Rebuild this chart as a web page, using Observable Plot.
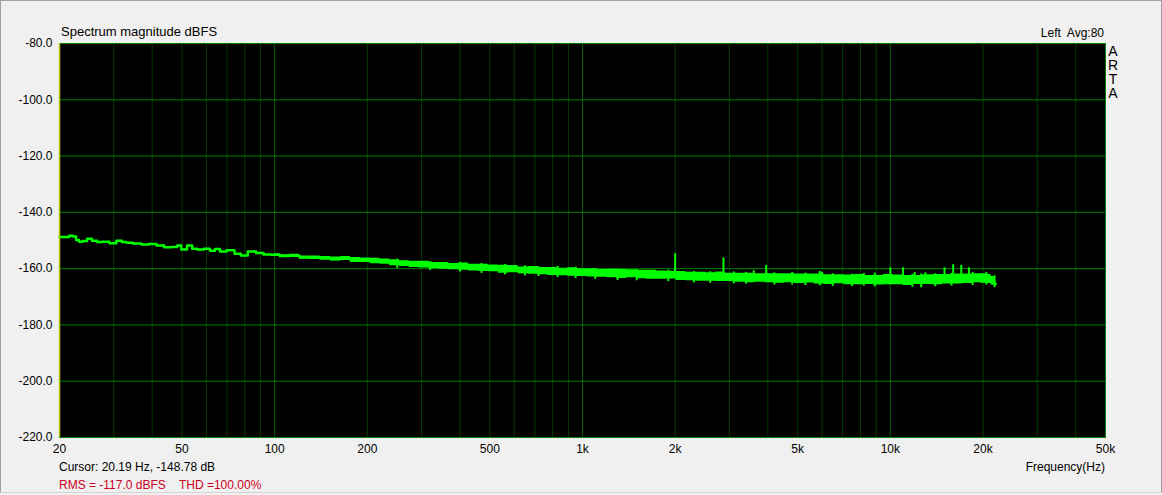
<!DOCTYPE html>
<html>
<head>
<meta charset="utf-8">
<script src="https://cdn.jsdelivr.net/npm/d3@7"></script>
<script src="https://cdn.jsdelivr.net/npm/@observablehq/plot@0.6"></script>
<style>
  html, body { margin: 0; padding: 0; background: #f0f0f0; }
  #wrap { position: relative; width: 1162px; height: 495px; overflow: hidden; font-family: "Liberation Sans", Arial, sans-serif; }
  #wrap svg { position: absolute; left: 0; top: 0; }
  .t { position: absolute; font-size: 12px; color: #000; white-space: pre; line-height: 14px; }
  #border { position: absolute; left: 0; top: 0; width: 1160px; height: 491px; border: 1px solid #a0a0a0; border-bottom-color: #d4d4d4; pointer-events: none; }
</style>
</head>
<body>
<div id="wrap"></div>
<script>
// ---- data ----
const xTicks = [20, 50, 100, 200, 500, 1000, 2000, 5000, 10000, 20000, 50000];
const xTickLabels = ["20", "50", "100", "200", "500", "1k", "2k", "5k", "10k", "20k", "50k"];
const yTicks = [-80, -100, -120, -140, -160, -180, -200, -220];
const gridFreqs = [30, 40, 50, 60, 70, 80, 90,
  200, 300, 400, 500, 600, 700, 800, 900,
  2000, 3000, 4000, 5000, 6000, 7000, 8000, 9000,
  20000, 30000, 40000];
const decadeFreqs = [100, 1000, 10000];

// low-frequency part of the trace (thin line)
const freqLow = [20, 21.2, 21.8, 22.4, 22.9, 23.4, 24.2, 25.0, 26.0, 27.0, 28.2, 29.9, 31.3, 32.5, 33.5,
  35.8, 38.0, 40.1, 42.6, 44.9, 47.6, 48.9, 50.6, 53.3, 54.6, 57.4, 60.5, 62.8, 65.2, 67.7,
  71.9, 76.3, 79.0, 84.7, 89.3, 94.8];
const dbLow = [-148.8, -148.8, -148.3, -148.6, -149.8, -150.4, -150.2, -149.4, -150.1, -150.5, -150.4, -151.0, -150.1, -150.5, -150.8,
  -151.1, -151.4, -151.2, -151.8, -152.4, -152.3, -151.8, -153.2, -151.8, -152.9, -153.2, -152.9, -153.6, -153.0, -153.9,
  -153.5, -154.7, -155.3, -153.9, -154.4, -155.0];

// noise band: centre and half-width (dB)
const freqBand = [100, 108, 116, 125, 135, 146, 158,
  170, 183, 197, 212, 228, 245, 264, 284, 306, 330,
  355, 382, 411, 443, 477, 513, 553, 595, 641, 690, 743, 800, 861, 927, 998,
  1075, 1157, 1246, 1341, 1444, 1555, 1674, 1802, 1940, 2089, 2249, 2421, 2607, 2807, 3022, 3254,
  3503, 3771, 4060, 4372, 4707, 5067, 5456, 5874, 6324, 6809, 7331, 7893, 8498, 9149, 9850,
  10605, 11418, 12293, 13235, 14249, 15341, 16517, 17783, 19146, 20200, 21000, 21500, 22000];
const dbBand = [-155.1, -155.5, -155.4, -156.0, -156.1, -156.3, -156.6,
  -156.4, -156.9, -157.0, -157.3, -157.5, -157.9, -158.2, -158.5, -158.6, -158.9,
  -159.0, -159.3, -159.3, -159.6, -159.7, -159.9, -160.2, -160.2, -160.6, -160.6, -160.9, -161.0, -161.2, -161.2, -161.4,
  -161.5, -161.7, -161.7, -161.9, -161.8, -162.1, -162.2, -162.3, -162.3, -162.6, -162.8, -162.9, -163.0, -162.9, -163.1, -163.2,
  -163.3, -163.3, -163.4, -163.5, -163.4, -163.6, -163.5, -163.7, -163.9, -163.8, -164.0, -163.9, -164.0, -164.1, -163.9,
  -164.0, -164.2, -164.0, -163.9, -163.9, -163.8, -163.7, -163.6, -163.4, -163.5, -163.7, -164.3, -165.5];
const spreadBand = [0.4, 0.4, 0.5, 0.5, 0.6, 0.6, 0.7,
  0.7, 0.9, 0.8, 1.0, 0.9, 1.1, 1.0, 1.1, 1.2, 1.1,
  1.2, 1.1, 1.3, 1.2, 1.3, 1.2, 1.4, 1.3, 1.2, 1.4, 1.3, 1.4, 1.3, 1.5, 1.4,
  1.5, 1.4, 1.5, 1.6, 1.4, 1.5, 1.6, 1.5, 1.4, 1.6, 1.5, 1.6, 1.5, 1.7, 1.5, 1.6,
  1.7, 1.5, 1.6, 1.7, 1.6, 1.7, 1.6, 1.8, 1.7, 1.6, 1.7, 1.8, 1.6, 1.7, 1.8,
  1.7, 1.8, 1.6, 1.7, 1.8, 1.7, 1.8, 1.7, 1.6, 1.7, 1.6, 1.5, 1.3];

// short noise excursions sticking out of the band
const jagFreqs = [250, 320, 400, 470, 560, 650, 720, 830, 950, 1100, 1300, 1500, 1900, 2300, 2600, 3100,
  3400, 4200, 4800, 5300, 5900, 6500, 7500, 8200, 8900, 11800, 12600, 14000, 15800, 18500, 20500, 21800];
const jagLo = [-159.9, -160.6, -161.2, -161.7, -162.2, -162.6, -162.8, -163.2, -163.5, -163.8, -164.2, -164.3, -164.6, -165.1, -165.2, -165.4,
  -165.5, -165.8, -165.8, -166.0, -166.1, -166.3, -166.4, -166.2, -166.5, -166.6, -166.8, -166.4, -166.2, -166.0, -165.8, -166.5];
const jagHi = [-156.6, -157.5, -157.8, -158.2, -158.5, -159.0, -159.3, -159.2, -159.5, -160.0, -160.2, -160.3, -160.5, -161.0, -161.1, -161.2,
  -161.3, -161.5, -161.4, -161.6, -161.0, -161.8, -162.0, -161.7, -161.6, -162.0, -161.9, -161.8, -161.7, -161.4, -161.3, -162.5];

// harmonic / spurious spikes
const spikeFreqs = [2000, 2870, 3600, 3950, 6000, 10000, 11000, 12000, 13000, 15000, 16000, 17000, 18000];
const spikeTops = [-154.7, -156.2, -160.8, -158.9, -161.3, -159.7, -159.7, -161.3, -161.5, -159.7, -158.6, -158.8, -159.7];
const spikeBases = [-162.5, -163.0, -163.3, -163.3, -163.7, -163.9, -164.0, -164.0, -163.9, -163.8, -163.7, -163.6, -163.5];

// ---- tables ----
const trace = freqLow.map((f, i) => ({f, db: dbLow[i]}))
  .concat(freqBand.map((f, i) => ({f, db: dbBand[i]})));
const band = freqBand.map((f, i) => ({f, lo: dbBand[i] - spreadBand[i], hi: dbBand[i] + spreadBand[i]}));
const jags = jagFreqs.map((f, i) => ({f, lo: jagLo[i], hi: jagHi[i]}));
const spikes = spikeFreqs.map((f, i) => ({f, top: spikeTops[i], base: spikeBases[i]}));
const xLabels = xTicks.map((f, i) => ({f, label: xTickLabels[i]}));

const chart = Plot.plot({
  width: 1162,
  height: 495,
  marginLeft: 59,
  marginRight: 57,
  marginTop: 43,
  marginBottom: 58,
  style: {background: "#f0f0f0", fontFamily: "Liberation Sans, Arial, sans-serif", fontSize: "12px", color: "#000"},
  x: {type: "log", domain: [20, 50000], axis: null},
  y: {domain: [-220, -80], axis: null},
  marks: [
    Plot.frame({fill: "#000", stroke: null}),
    Plot.ruleX(gridFreqs, {stroke: "#003c00", strokeWidth: 1}),
    Plot.ruleX(decadeFreqs, {stroke: "#006000", strokeWidth: 1}),
    Plot.ruleY(yTicks, {stroke: "#008000", strokeWidth: 1}),
    Plot.areaY(band, {x: "f", y1: "lo", y2: "hi", fill: "#00ff00", curve: "step"}),
    Plot.line(trace, {x: "f", y: "db", stroke: "#00ff00", strokeWidth: 2.5, curve: "step"}),
    Plot.ruleX(jags, {x: "f", y1: "lo", y2: "hi", stroke: "#00ff00", strokeWidth: 2}),
    Plot.ruleX(spikes, {x: "f", y1: "base", y2: "top", stroke: "#00ff00", strokeWidth: 2}),
    Plot.frame({stroke: "#008000"}),
    Plot.ruleX([20], {stroke: "#b8c400", strokeWidth: 1.5}),
    Plot.text(xLabels, {x: "f", text: "label", frameAnchor: "bottom", dy: 15, fontSize: 12, fill: "#000"}),
    Plot.axisY(yTicks, {tickFormat: d => d.toFixed(1), tickSize: 0, tickPadding: 7, fontSize: 12, label: null})
  ]
});

const wrap = document.getElementById("wrap");
wrap.appendChild(chart);

function addText(txt, css) {
  const d = document.createElement("div");
  d.className = "t";
  d.textContent = txt;
  Object.assign(d.style, css);
  wrap.appendChild(d);
  return d;
}
addText("Spectrum magnitude dBFS", {left: "61px", top: "25px", fontSize: "13px"});
addText("Left  Avg:80", {right: "58px", top: "26px"});
addText("A\nR\nT\nA", {left: "1108px", top: "44px", fontSize: "14px", lineHeight: "14px", textAlign: "center", width: "10px"});
addText("Cursor: 20.19 Hz, -148.78 dB", {left: "59px", top: "460px"});
addText("Frequency(Hz)", {right: "57px", top: "460px"});
addText("RMS = -117.0 dBFS    THD =100.00%", {left: "59px", top: "478px", color: "#cc0022"});
const border = document.createElement("div");
border.id = "border";
wrap.appendChild(border);
</script>
</body>
</html>
